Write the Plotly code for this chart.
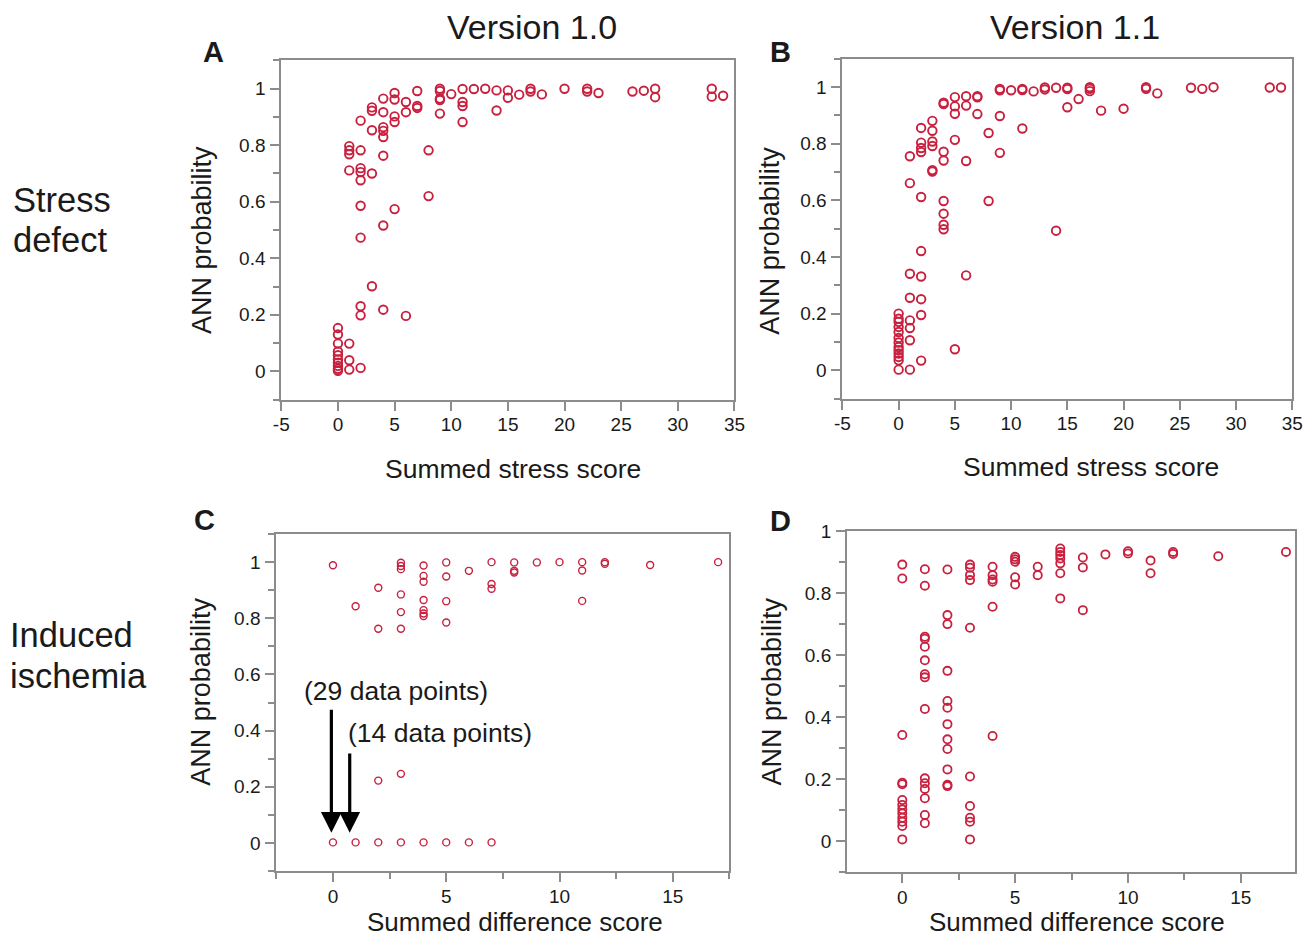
import plotly.graph_objects as go

W, H = 1306, 938
RED = "#C8203E"
AXIS_GRAY = "#8c8c8c"
INK = "#1a1a1a"
FONT = "Liberation Sans, Arial, Helvetica, sans-serif"

# ---------------- data ----------------
# Panel A: Version 1.0, stress defect
A_score = ([0] * 10 + [1] * 7 + [2] * 10 + [3] * 5 + [4] * 8 + [5] * 5 + [6] * 3 + [7] * 3 + [8] * 2
           + [9] * 5 + [10] + [11] * 4 + [12] + [13] + [14] * 2 + [15] * 2 + [16] + [17] * 2 + [18]
           + [20] + [22] * 2 + [23] + [26] + [27] + [28] * 2 + [33] * 2 + [34])
A_prob = [0.153, 0.13, 0.098, 0.07, 0.057, 0.042, 0.03, 0.019, 0.009, 0.002,
          0.797, 0.782, 0.768, 0.711, 0.098, 0.039, 0.006,
          0.887, 0.782, 0.719, 0.705, 0.676, 0.586, 0.473, 0.23, 0.198, 0.012,
          0.934, 0.922, 0.853, 0.700, 0.301,
          0.965, 0.917, 0.864, 0.851, 0.829, 0.763, 0.516, 0.218,
          0.985, 0.962, 0.902, 0.882, 0.574,
          0.953, 0.917, 0.196,
          0.992, 0.939, 0.932,
          0.782, 0.620,
          1.0, 0.992, 0.965, 0.96, 0.912,
          0.981,
          0.999, 0.953, 0.939, 0.882,
          0.999,
          1.0,
          0.994, 0.923,
          0.994, 0.968,
          0.979,
          1.0, 0.99,
          0.98,
          1.0,
          1.0, 0.99,
          0.985,
          0.99,
          0.993,
          1.0, 0.97,
          1.0, 0.972,
          0.975]

# Panel B: Version 1.1, stress defect
B_score = ([0] * 13 + [1] * 8 + [2] * 10 + [3] * 6 + [4] * 8 + [5] * 5 + [6] * 4 + [7] * 3 + [8] * 2
           + [9] * 4 + [10] + [11] * 3 + [12] + [13] * 2 + [14] * 2 + [15] * 3 + [16] + [17] * 3
           + [18] + [20] + [22] * 2 + [23] + [26] + [27] + [28] + [33] + [34])
B_prob = [0.2, 0.182, 0.171, 0.153, 0.135, 0.114, 0.098, 0.082, 0.071, 0.059, 0.047, 0.035, 0.002,
          0.756, 0.661, 0.341, 0.256, 0.176, 0.149, 0.106, 0.002,
          0.856, 0.804, 0.785, 0.771, 0.612, 0.421, 0.331, 0.251, 0.195, 0.034,
          0.881, 0.846, 0.808, 0.792, 0.707, 0.702,
          0.945, 0.94, 0.772, 0.741, 0.598, 0.553, 0.514, 0.498,
          0.965, 0.932, 0.906, 0.814, 0.074,
          0.968, 0.935, 0.739, 0.335,
          0.968, 0.964, 0.905,
          0.838, 0.598,
          0.994, 0.989, 0.898, 0.768,
          0.989,
          0.994, 0.99, 0.854,
          0.985,
          0.999, 0.992,
          0.998, 0.493,
          0.998, 0.993, 0.929,
          0.958,
          1.0, 0.994, 0.986,
          0.917,
          0.924,
          1.0, 0.994,
          0.978,
          0.998,
          0.994,
          1.0,
          0.999,
          0.999]

# Panel C: Version 1.0, induced ischemia
C_score = ([0] * 2 + [1] * 2 + [2] * 4 + [3] * 8 + [4] * 8 + [5] * 5 + [6] * 2 + [7] * 4 + [8] * 3
           + [9] + [10] + [11] * 3 + [12] * 2 + [14] + [17])
C_prob = [0.989, 0.002,
          0.843, 0.002,
          0.909, 0.763, 0.222, 0.002,
          0.998, 0.986, 0.975, 0.885, 0.822, 0.763, 0.246, 0.002,
          0.988, 0.951, 0.930, 0.865, 0.829, 0.817, 0.808, 0.002,
          0.999, 0.949, 0.861, 0.785, 0.002,
          0.969, 0.002,
          1.0, 0.922, 0.905, 0.002,
          0.999, 0.969, 0.963,
          0.999,
          1.0,
          1.0, 0.97, 0.862,
          1.0, 0.994,
          0.99,
          1.0]

# Panel D: Version 1.1, induced ischemia
D_score = ([0] * 13 + [1] * 15 + [2] * 12 + [3] * 10 + [4] * 6 + [5] * 5 + [6] * 2 + [7] * 7 + [8] * 3
           + [9] + [10] * 2 + [11] * 2 + [12] * 2 + [14] + [17])
D_prob = [0.892, 0.847, 0.342, 0.188, 0.183, 0.132, 0.116, 0.102, 0.089, 0.075, 0.062, 0.048, 0.005,
          0.877, 0.824, 0.659, 0.653, 0.627, 0.583, 0.538, 0.528, 0.426, 0.202, 0.186, 0.168, 0.138, 0.084, 0.057,
          0.876, 0.729, 0.7, 0.549, 0.452, 0.43, 0.377, 0.328, 0.297, 0.231, 0.181, 0.177,
          0.892, 0.882, 0.858, 0.842, 0.688, 0.208, 0.113, 0.075, 0.062, 0.005,
          0.885, 0.858, 0.844, 0.837, 0.756, 0.339,
          0.917, 0.909, 0.901, 0.851, 0.828,
          0.885, 0.858,
          0.944, 0.933, 0.923, 0.912, 0.896, 0.864, 0.783,
          0.915, 0.883, 0.745,
          0.925,
          0.935, 0.928,
          0.905, 0.864,
          0.933, 0.926,
          0.919,
          0.933]

# tick labels
STRESS_TICKS = [-5, 0, 5, 10, 15, 20, 25, 30, 35]
STRESS_TICK_TEXT = ["-5", "0", "5", "10", "15", "20", "25", "30", "35"]
DIFF_TICKS = [0, 5, 10, 15]
DIFF_TICK_TEXT = ["0", "5", "10", "15"]
PROB_TICKS = [0, 0.2, 0.4, 0.6, 0.8, 1.0]
PROB_TICK_TEXT = ["0", "0.2", "0.4", "0.6", "0.8", "1"]

# ---------------- layout helpers ----------------
# target pixel positions -> paper fractions (calibrated against the captured picture)
SX, OX = 0.9858, 8.3
SY, OY = 0.99, 9.5


def fx(p):
    return min(1.0, max(0.0, (p - OX) / SX / W))


def fy(p):
    return min(1.0, max(0.0, 1 - (p - OY) / SY / H))


fig = go.Figure()
panels = [
    (A_score, A_prob, "x", "y", 8.5, 1.9),
    (B_score, B_prob, "x2", "y2", 8.5, 1.9),
    (C_score, C_prob, "x3", "y3", 7, 1.4),
    (D_score, D_prob, "x4", "y4", 8.2, 1.8),
]
for xs, ys, xa, ya, size, lw in panels:
    fig.add_trace(go.Scatter(
        x=xs, y=ys, xaxis=xa, yaxis=ya, mode="markers", showlegend=False,
        marker=dict(symbol="circle-open", size=size, color=RED, line=dict(width=lw, color=RED)),
    ))

common = dict(
    showline=True, linecolor=AXIS_GRAY, linewidth=2, mirror=True,
    ticks="outside", ticklen=9, tickwidth=1.5, tickcolor=AXIS_GRAY,
    showgrid=False, zeroline=False,
    tickfont=dict(size=19, color=INK, family=FONT),
)
minor_y = dict(ticks="outside", ticklen=6, tickwidth=1.5, tickcolor=AXIS_GRAY, dtick=0.1, tick0=0, showgrid=False)
minor_x = dict(ticks="outside", ticklen=6, tickwidth=1.5, tickcolor=AXIS_GRAY, dtick=2.5, tick0=0, showgrid=False)

# target plot boxes in pixels: (left, right, top, bottom)
dom = {
    1: (281.7, 735.0, 60.0, 399.3),
    2: (843.0, 1293.0, 58.4, 398.3),
    3: (276.7, 730.0, 533.9, 871.1),
    4: (847.6, 1296.0, 531.0, 872.0),
}
xranges = {1: [-5, 35], 2: [-5, 35], 3: [-2.5, 17.5], 4: [-2.45, 17.4]}
yranges = {1: [-0.1, 1.1], 2: [-0.1, 1.1], 3: [-0.1, 1.1], 4: [-0.1, 1.0]}

layout = {}
for i in range(1, 5):
    l, r, t, b = dom[i]
    xname = "xaxis" if i == 1 else f"xaxis{i}"
    yname = "yaxis" if i == 1 else f"yaxis{i}"
    anchor_x = "y" if i == 1 else f"y{i}"
    anchor_y = "x" if i == 1 else f"x{i}"
    if i <= 2:
        xt = dict(tickvals=STRESS_TICKS, ticktext=STRESS_TICK_TEXT)
    else:
        xt = dict(tickvals=DIFF_TICKS, ticktext=DIFF_TICK_TEXT, minor=minor_x)
    layout[xname] = dict(common, domain=[fx(l), fx(r)], range=xranges[i], anchor=anchor_x,
                         ticklabelstandoff=-2, **xt)
    layout[yname] = dict(common, domain=[fy(b), fy(t)], range=yranges[i], anchor=anchor_y,
                         ticklabelstandoff=1, tickvals=PROB_TICKS, ticktext=PROB_TICK_TEXT, minor=minor_y)

fig.update_layout(
    width=W, height=H,
    margin=dict(l=0, r=0, t=0, b=0),
    paper_bgcolor="white", plot_bgcolor="white",
    font=dict(family=FONT, color=INK),
    showlegend=False,
    **layout,
)


def label(text, x, y, size, xanchor="center", yanchor="middle", angle=0, bold=False):
    fig.add_annotation(
        text=f"<b>{text}</b>" if bold else text,
        xref="paper", yref="paper", x=fx(x), y=fy(y),
        xanchor=xanchor, yanchor=yanchor, textangle=angle,
        showarrow=False, font=dict(size=size, color=INK, family=FONT),
    )


# column titles
label("Version 1.0", 532, 27, 34)
label("Version 1.1", 1076, 27, 34)
# row labels
label("Stress", 11, 200, 34.5, xanchor="left")
label("defect", 11, 240, 34.5, xanchor="left")
label("Induced", 8, 635, 34.5, xanchor="left")
label("ischemia", 8, 676, 34.5, xanchor="left")
# panel letters
label("A", 214, 52, 29, bold=True)
label("B", 781, 52, 29, bold=True)
label("C", 205, 520, 29, bold=True)
label("D", 781, 521, 29, bold=True)
# axis titles
label("ANN probability", 203, 240, 27, angle=-90)
label("ANN probability", 771, 240, 27, angle=-90)
label("ANN probability", 201, 692, 27, angle=-90)
label("ANN probability", 773, 691, 27, angle=-90)
label("Summed stress score", 513, 469, 26.5)
label("Summed stress score", 1092, 467, 26.5)
label("Summed difference score", 515, 922, 26)
label("Summed difference score", 1078, 922, 26)
# panel C notes
label("(29 data points)", 302, 691, 26.5, xanchor="left")
label("(14 data points)", 346, 733, 26.5, xanchor="left")

for tip_x, tail_y in [(-0.07, 0.48), (0.74, 0.324)]:
    fig.add_annotation(
        text="", xref="x3", yref="y3", axref="x3", ayref="y3",
        x=tip_x, y=0.036, ax=tip_x, ay=tail_y,
        showarrow=True, arrowhead=2, arrowsize=1.3, arrowwidth=3.2, arrowcolor="black",
    )

fig.write_html(
    "out.html",
    config={"displayModeBar": False},
    post_script=(
        "document.body.style.margin='0';document.body.style.padding='0';"
        "document.documentElement.style.overflow='hidden';"
        "var gd=document.getElementById('{plot_id}');"
        "gd.style.position='fixed';gd.style.left='0';gd.style.top='0';"
    ),
)
